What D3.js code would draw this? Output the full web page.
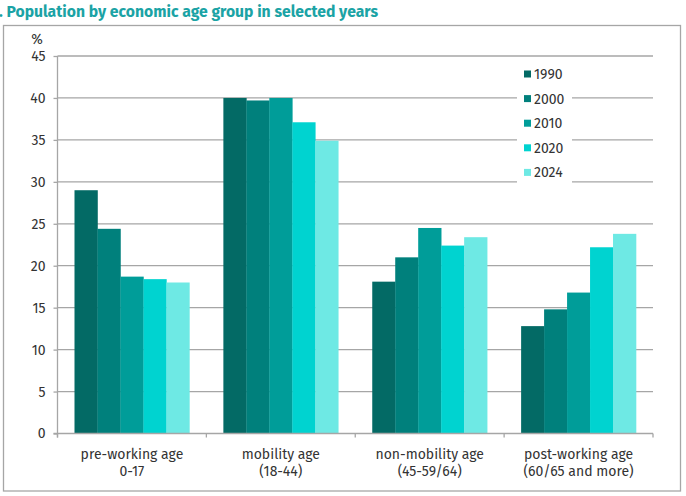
<!DOCTYPE html>
<html>
<head>
<meta charset="utf-8">
<script src="https://cdn.jsdelivr.net/npm/d3@7"></script>
<style>
  body { margin: 0; background: #fff; }
  svg { display: block; font-family: "Fira Sans", "Noto Sans", "Open Sans", sans-serif; }
</style>
</head>
<body>
<svg id="svg1" width="686" height="496"></svg>
<script>
var categories = [['pre-working age', '0-17'], ['mobility age', '(18-44)'], ['non-mobility age', '(45-59/64)'], ['post-working age', '(60/65 and more)']];
var years = ['1990', '2000', '2010', '2020', '2024'];
var colors = ['#036a65', '#00807c', '#009d99', '#00d3d0', '#6ee9e4'];

// one array per year, values for the 4 groups
var v1990 = [29.0, 40.0, 18.1, 12.8];
var v2000 = [24.4, 39.7, 21.0, 14.8];
var v2010 = [18.7, 40.0, 24.5, 16.8];
var v2020 = [18.4, 37.1, 22.4, 22.2];
var v2024 = [18.0, 34.9, 23.4, 23.8];
var series = [v1990, v2000, v2010, v2020, v2024];

var yTicks = [0, 5, 10, 15, 20, 25, 30, 35, 40, 45];

var svg = d3.select('svg');

// frame
svg.append('rect')
    .attr('x', 3.5).attr('y', 25.5)
    .attr('width', 677).attr('height', 465.5)
    .attr('fill', 'none')
    .attr('stroke', '#a6a6a6')
    .attr('stroke-width', 1.3);

// title (cut off at left like the source)
svg.append('text')
    .attr('x', -1)
    .attr('y', 17)
    .attr('fill', '#1ba3a5')
    .attr('font-weight', 'bold')
    .attr('font-size', 16)
    .attr('textLength', 379)
    .attr('lengthAdjust', 'spacingAndGlyphs')
    .text('. Population by economic age group in selected years');

var plotLeft = 57.5, plotRight = 653, plotTop = 56, plotBottom = 433.5;

var x = d3.scaleBand()
    .domain(d3.range(categories.length))
    .range([plotLeft, plotRight])
    .paddingInner(0)
    .paddingOuter(0);

var xInner = d3.scaleBand()
    .domain(d3.range(years.length))
    .range([0, x.bandwidth()])
    .paddingOuter(0.74);

var y = d3.scaleLinear().domain([0, 45]).range([plotBottom, plotTop]);

// gridlines
svg.append('g')
    .selectAll('line')
    .data(yTicks.slice(1))
    .enter()
    .append('line')
    .attr('x1', plotLeft).attr('x2', plotRight)
    .attr('y1', function(d){ return y(d); })
    .attr('y2', function(d){ return y(d); })
    .attr('stroke', '#a6a6a6')
    .attr('stroke-width', 1.3);

// legend background breaks the gridlines
svg.append('rect')
    .attr('x', 517).attr('y', 60)
    .attr('width', 55).attr('height', 125)
    .attr('fill', '#fff');

// bars
var groups = svg.append('g')
    .selectAll('g')
    .data(series)
    .enter()
    .append('g')
    .attr('fill', function(d, i){ return colors[i]; });

groups.each(function(vals, si){
    d3.select(this).selectAll('rect')
        .data(vals)
        .enter()
        .append('rect')
        .attr('x', function(d, ci){ return x(ci) + xInner(si); })
        .attr('width', xInner.bandwidth() + 0.3)
        .attr('y', function(d){ return y(d); })
        .attr('height', function(d){ return plotBottom - y(d); });
});

// y axis
var yAxis = svg.append('g')
    .attr('transform', 'translate(' + plotLeft + ',0)')
    .call(d3.axisLeft(y).tickValues(yTicks).tickSize(4).tickPadding(8));
yAxis.select('.domain').attr('stroke', '#a6a6a6').attr('stroke-width', 1.3).attr('d', 'M0,' + plotTop + 'V' + (plotBottom + 4));
yAxis.selectAll('line').attr('stroke', '#a6a6a6').attr('stroke-width', 1.3);
yAxis.selectAll('text').attr('font-size', 14).attr('fill', '#333');
yAxis.attr('font-family', null);

svg.append('text')
    .attr('x', 37).attr('y', 44)
    .attr('text-anchor', 'middle')
    .attr('font-size', 14)
    .attr('fill', '#333')
    .text('%');

// x axis
var xAxis = svg.append('g')
    .attr('transform', 'translate(0,' + plotBottom + ')');
xAxis.append('line')
    .attr('x1', plotLeft - 4).attr('x2', plotRight)
    .attr('stroke', '#a6a6a6').attr('stroke-width', 1.3);
xAxis.selectAll('.tk')
    .data(d3.range(categories.length + 1))
    .enter()
    .append('line')
    .attr('class', 'tk')
    .attr('x1', function(d){ return plotLeft + d * x.step(); })
    .attr('x2', function(d){ return plotLeft + d * x.step(); })
    .attr('y1', 0).attr('y2', 4)
    .attr('stroke', '#a6a6a6').attr('stroke-width', 1.3);

var labels = xAxis.selectAll('.lbl')
    .data(categories)
    .enter()
    .append('text')
    .attr('class', 'lbl')
    .attr('text-anchor', 'middle')
    .attr('font-size', 14)
    .attr('fill', '#333')
    .attr('x', function(d, i){ return x(i) + x.bandwidth() / 2; });
labels.append('tspan').attr('y', 25).attr('x', function(d, i){ return x(i) + x.bandwidth() / 2; }).text(function(d){ return d[0]; });
labels.append('tspan').attr('y', 42).attr('x', function(d, i){ return x(i) + x.bandwidth() / 2; }).text(function(d){ return d[1]; });

// legend
var legend = svg.append('g')
    .selectAll('g')
    .data(years)
    .enter()
    .append('g')
    .attr('transform', function(d, i){ return 'translate(524,' + (74 + i * 24.6) + ')'; });
legend.append('rect')
    .attr('x', 0).attr('y', -3.5)
    .attr('width', 7).attr('height', 7)
    .attr('fill', function(d, i){ return colors[i]; });
legend.append('text')
    .attr('x', 10).attr('y', 5)
    .attr('font-size', 14)
    .attr('fill', '#333')
    .text(function(d){ return d; });
</script>
</body>
</html>
